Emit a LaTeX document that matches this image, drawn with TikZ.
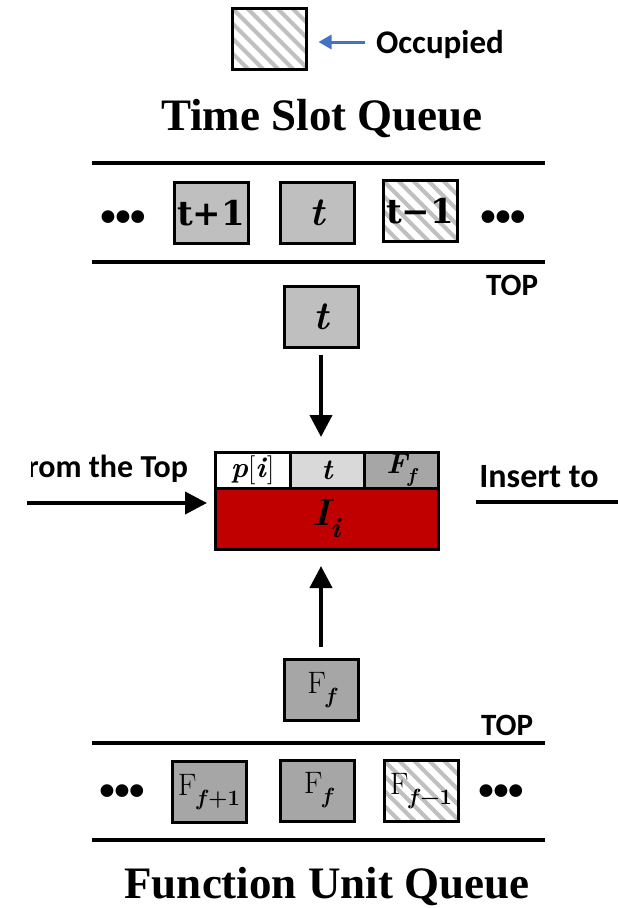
\documentclass[tikz,border=0pt]{standalone}
\usepackage{fontspec}
\newfontfamily\titleserif{Liberation Serif}
\newfontfamily\heavyserif{DejaVu Serif}
\newfontfamily\sansbold{Carlito}
\usetikzlibrary{arrows.meta}

\definecolor{slotgray}{RGB}{191,191,191}
\definecolor{fgray}{RGB}{166,166,166}
\definecolor{lightcell}{RGB}{217,217,217}
\definecolor{hatchgray}{RGB}{192,192,192}
\definecolor{instrred}{RGB}{192,0,0}
\definecolor{legendblue}{RGB}{68,114,196}

% lowered subscript in text fonts
\newcommand\lowsub[2]{\raisebox{-0.32em}{\fontsize{#1}{#1}\selectfont #2}}

\tikzset{
  every node/.style={inner sep=0pt, outer sep=0pt},
  fs/.style={font=\fontsize{#1}{#1}\selectfont},
  qline/.style={line width=4.5pt},
  slot/.style={draw, line width=3pt, minimum width=74, minimum height=61},
  tslot/.style={slot, fill=slotgray},
  fslot/.style={slot, fill=fgray},
  hatched/.style={slot, fill=white,
    path picture={\foreach \k in {-90,-75,...,90}
      \draw[line width=4pt, hatchgray]
        ([xshift=\k pt]path picture bounding box.north west) -- ++(90pt,-90pt);}},
  cell/.style={draw, line width=3pt},
  titletext/.style={font=\fontsize{45}{45}\selectfont\titleserif\bfseries},
  sanstext/.style={font=\fontsize{#1}{#1}\selectfont\sansbold\bfseries},
  slotnum/.style={font=\fontsize{34}{34}\selectfont\heavyserif\bfseries},
  dots/.style={sanstext=30},
  arr/.style={line width=4pt, -{Triangle[length=22pt,width=22pt]}},
  bluearr/.style={line width=3pt, legendblue, -{Triangle[length=13pt,width=14pt]}},
}

\begin{document}
\begin{tikzpicture}[x=1pt,y=-1pt]
\useasboundingbox (0,0) rectangle (618,908);

% legend: hatched slot = occupied
\node[hatched] (legend) at (269.5,39) {};
\node[sanstext=33, anchor=base] (occ) at (440,53) {Occupied};
\coordinate (occarrow) at (365,42);
\draw[bluearr, shorten >=12pt] (occarrow) -- (legend.east |- occarrow);

% time slot queue
\node[titletext, anchor=base] (tsq) at (322,130) {Time Slot Queue};
\draw[qline] (92,163) -- (545,163);
\draw[qline] (92,262) -- (545,262);
\node[dots] (td1) at (123,218) {•••};
\node[tslot, slotnum] (tp1) at (211,213) {t+1};
\node[tslot, fs=40] (t0) at (317.5,213) {\bfseries\itshape t};
\node[hatched, slotnum] (tm1) at (420,211) {t−1};
\node[dots] (td2) at (503,218) {•••};
\node[sanstext=31, anchor=base] (top1) at (512,295) {TOP};

% slot taken from the queue
\node[tslot, fs=40] (tdeq) at (321,317) {\bfseries\itshape t};

% instruction entry
\node[cell, fill=white, minimum width=75, minimum height=36, fs=29] (cp) at (252.5,470) {\textbf{\textit{p}}[\textbf{\textit{i}}]};
\node[cell, fill=lightcell, minimum width=74, minimum height=36, fs=29] (ct) at (327,470) {\bfseries\itshape t};
\node[cell, fill=fgray, minimum width=74, minimum height=36, fs=29] (cf) at (401,470) {\bfseries\itshape F\lowsub{20}{f}};
\node[cell, fill=instrred, minimum width=223, minimum height=61, fs=38] (instr) at (326.5,518.5) {\bfseries\itshape I\lowsub{28}{i}};

\draw[arr, shorten <=7pt, shorten >=15pt] (tdeq.south) -- (tdeq.south |- ct.north);

% side connectors
\begin{scope}
  \clip (31.5,430) rectangle (214,495);
  \node[sanstext=32, anchor=base east] (fromtop) at (188,477) {From the Top};
\end{scope}
\coordinate (lstart) at (27,503);
\draw[arr, shorten >=8pt] (lstart) -- (instr.west |- lstart);

\node[sanstext=34, anchor=base] (insert) at (539,487) {Insert to};
\coordinate (rend) at (618,502);
\draw[line width=4pt, shorten <=38pt] (instr.east |- rend) -- (rend);

% function unit taken from the queue
\node[fslot, fs=31] (fdeq) at (321,690) {F\lowsub{22}{\bfseries\itshape f}};
\draw[arr, shorten <=13pt, shorten >=17pt] (fdeq.north) -- (fdeq.north |- instr.south);

% function unit queue
\node[sanstext=31, anchor=base] (top2) at (507,735) {TOP};
\draw[qline] (92,743) -- (545,743);
\draw[qline] (92,840) -- (545,840);
\node[dots] (fd1) at (122,792) {•••};
\node[fslot, fs=31] (fp1) at (209,792) {F\lowsub{22}{\bfseries\textit{f}+1}};
\node[fslot, fs=31] (f0) at (317.5,790.5) {F\lowsub{22}{\bfseries\itshape f}};
\node[hatched, fs=31] (fm1) at (421,791) {F\lowsub{22}{\bfseries\textit{f}−1}};
\node[dots] (fd2) at (501,792) {•••};
\node[titletext, anchor=base] (fuq) at (327,898) {Function Unit Queue};
\end{tikzpicture}
\end{document}
